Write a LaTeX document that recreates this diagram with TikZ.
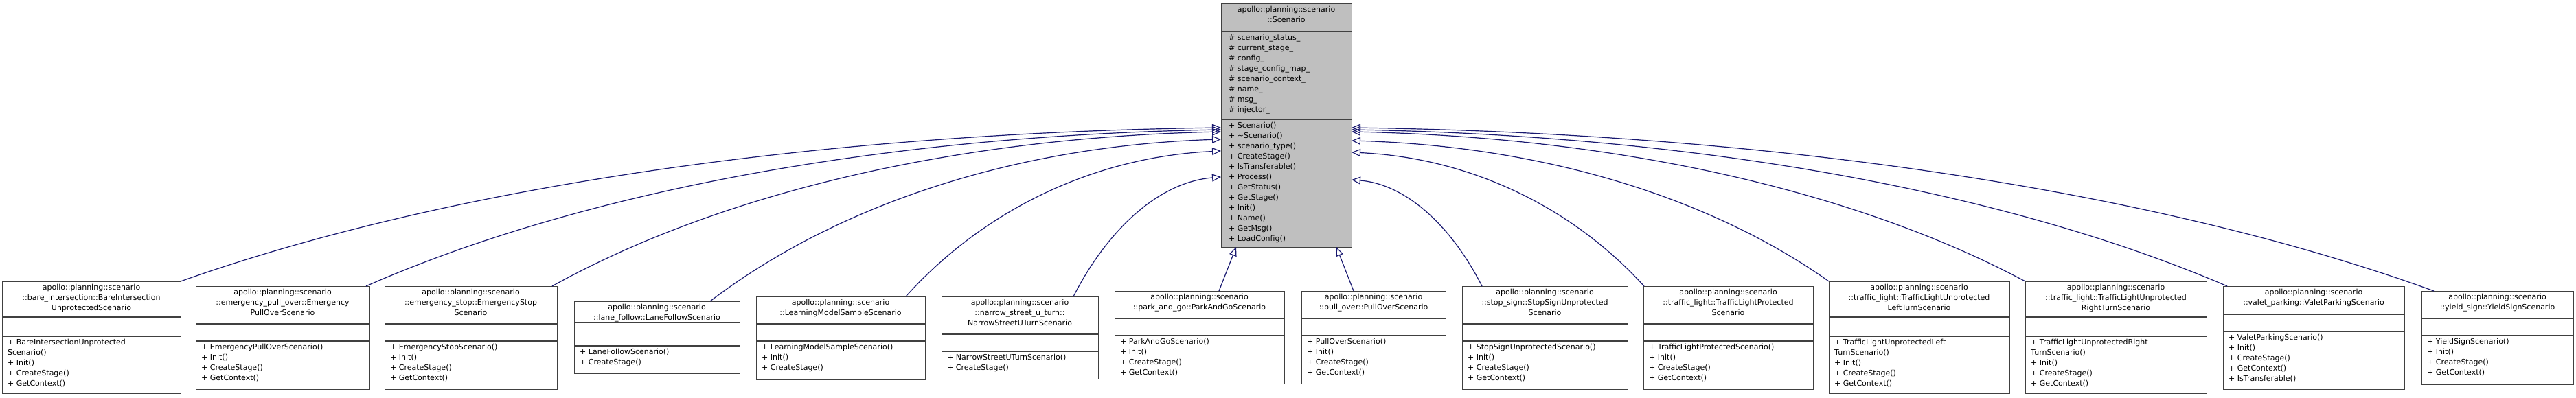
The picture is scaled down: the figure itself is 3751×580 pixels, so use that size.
\documentclass[tikz,border=0pt]{standalone}
\usepackage{fontspec}
\setmainfont{DejaVu Sans}
\usetikzlibrary{arrows.meta}
\definecolor{edgec}{HTML}{191970}
\definecolor{boxl}{HTML}{404040}
\tikzset{
  box/.style={draw=boxl, line width=1.4pt, inner sep=0pt, fill=white},
  sep/.style={draw=boxl, line width=1.4pt},
  ttl/.style={inner sep=0pt, align=center, font=\fontsize{11}{15}\selectfont},
  mth/.style={inner sep=0pt, align=left, font=\fontsize{11}{15}\selectfont},
  inh/.style={draw=edgec, line width=1.2pt, -{Triangle[open, length=13pt, width=11pt]}},
}
\newcommand\cls[9]{%
  \pgfmathsetmacro\cw{#3-#2}\pgfmathsetmacro\ch{#7-#4}%
  \node[box, minimum width=\cw pt, minimum height=\ch pt, anchor=north west] (#1) at (#2,580-#4) {};
  \draw[sep] (#2,580-#5) -- (#3,580-#5);
  \draw[sep] (#2,580-#6) -- (#3,580-#6);
  \node[ttl, anchor=north] (#1t) at ({(#2+#3)/2},580-#4-4) {#8};
  \node[mth, anchor=north west] (#1m) at (#2+8,580-#6-4) {#9};
}
% #1 child point name, #2,#3 its px coords (y down), #4 end name, #5,#6 end px coords
\newcommand\inhc[6]{%
  \coordinate (#1) at (#2,580-#3);
  \coordinate (#4) at (#5,580-#6);
  \pgfmathsetmacro\ax{#2+0.25*(#5-#2)}\pgfmathsetmacro\ay{580-#3+0.6*(#3-#6)}%
  \pgfmathsetmacro\bx{#2+0.6*(#5-#2)}\pgfmathsetmacro\by{580-#6-0.04*(#3-#6)}%
  \draw[inh] (#1) .. controls (\ax,\ay) and (\bx,\by) .. (#4);
}
\begin{document}
\begin{tikzpicture}[x=1pt,y=1pt]
\useasboundingbox (0,0) rectangle (3751,580);
% base class
\node[box, fill=gray!50, minimum width=190pt, minimum height=355pt, anchor=north west] (base) at (1778,575) {};
\draw[sep] (1778,580-46) -- (1968,580-46);
\draw[sep] (1778,580-174) -- (1968,580-174);
\node[ttl, anchor=north] (baset) at (1873,571) {apollo::planning::scenario\\::Scenario};
\node[mth, anchor=north west] (basea) at (1789,580-50) {\# scenario\_status\_\\\# current\_stage\_\\\# config\_\\\# stage\_config\_map\_\\\# scenario\_context\_\\\# name\_\\\# msg\_\\\# injector\_};
\node[mth, anchor=north west] (basem) at (1789,580-178) {+ Scenario()\\+ \textasciitilde Scenario()\\+ scenario\_type()\\+ CreateStage()\\+ IsTransferable()\\+ Process()\\+ GetStatus()\\+ GetStage()\\+ Init()\\+ Name()\\+ GetMsg()\\+ LoadConfig()};

\cls{bare}{3}{263}{410}{462}{490}{573}{apollo::planning::scenario\\::bare\_intersection::BareIntersection\\UnprotectedScenario}{+ BareIntersectionUnprotected\\Scenario()\\+ Init()\\+ CreateStage()\\+ GetContext()}
\cls{epo}{285}{538}{417}{472}{497}{567}{apollo::planning::scenario\\::emergency\_pull\_over::Emergency\\PullOverScenario}{+ EmergencyPullOverScenario()\\+ Init()\\+ CreateStage()\\+ GetContext()}
\cls{estop}{560}{811}{417}{472}{497}{567}{apollo::planning::scenario\\::emergency\_stop::EmergencyStop\\Scenario}{+ EmergencyStopScenario()\\+ Init()\\+ CreateStage()\\+ GetContext()}
\cls{lane}{836}{1077}{439}{470}{504}{544}{apollo::planning::scenario\\::lane\_follow::LaneFollowScenario}{+ LaneFollowScenario()\\+ CreateStage()}
\cls{lm}{1101}{1347}{432}{472}{497}{553}{apollo::planning::scenario\\::LearningModelSampleScenario}{+ LearningModelSampleScenario()\\+ Init()\\+ CreateStage()}
\cls{narrow}{1371}{1599}{432}{487}{512}{552}{apollo::planning::scenario\\::narrow\_street\_u\_turn::\\NarrowStreetUTurnScenario}{+ NarrowStreetUTurnScenario()\\+ CreateStage()}
\cls{park}{1623}{1870}{424}{464}{489}{559}{apollo::planning::scenario\\::park\_and\_go::ParkAndGoScenario}{+ ParkAndGoScenario()\\+ Init()\\+ CreateStage()\\+ GetContext()}
\cls{pull}{1895}{2105}{424}{464}{489}{559}{apollo::planning::scenario\\::pull\_over::PullOverScenario}{+ PullOverScenario()\\+ Init()\\+ CreateStage()\\+ GetContext()}
\cls{stop}{2129}{2370}{417}{472}{497}{567}{apollo::planning::scenario\\::stop\_sign::StopSignUnprotected\\Scenario}{+ StopSignUnprotectedScenario()\\+ Init()\\+ CreateStage()\\+ GetContext()}
\cls{tlp}{2393}{2640}{417}{472}{497}{567}{apollo::planning::scenario\\::traffic\_light::TrafficLightProtected\\Scenario}{+ TrafficLightProtectedScenario()\\+ Init()\\+ CreateStage()\\+ GetContext()}
\cls{tlul}{2663}{2926}{410}{462}{490}{573}{apollo::planning::scenario\\::traffic\_light::TrafficLightUnprotected\\LeftTurnScenario}{+ TrafficLightUnprotectedLeft\\TurnScenario()\\+ Init()\\+ CreateStage()\\+ GetContext()}
\cls{tlur}{2949}{3213}{410}{462}{490}{573}{apollo::planning::scenario\\::traffic\_light::TrafficLightUnprotected\\RightTurnScenario}{+ TrafficLightUnprotectedRight\\TurnScenario()\\+ Init()\\+ CreateStage()\\+ GetContext()}
\cls{valet}{3237}{3501}{417}{458}{483}{567}{apollo::planning::scenario\\::valet\_parking::ValetParkingScenario}{+ ValetParkingScenario()\\+ Init()\\+ CreateStage()\\+ GetContext()\\+ IsTransferable()}
\cls{yield}{3526}{3747}{424}{464}{489}{560}{apollo::planning::scenario\\::yield\_sign::YieldSignScenario}{+ YieldSignScenario()\\+ Init()\\+ CreateStage()\\+ GetContext()}

\inhc{pb}{263}{410}{eb}{1778}{186}
\inhc{pe}{533}{417}{ee}{1778}{189}
\inhc{ps}{804}{417}{es}{1778}{192}
\inhc{pl}{1034}{439}{el}{1778}{203}
\inhc{pm}{1319}{432}{em}{1778}{220}
\inhc{pn}{1563}{432}{en}{1778}{258}
\coordinate (pp) at (1775,580-424); \coordinate (ep) at (1800,580-360);
\draw[inh] (pp) -- (ep);
\coordinate (pq) at (1971,580-424); \coordinate (eq) at (1946,580-360);
\draw[inh] (pq) -- (eq);
\inhc{pt}{2158}{417}{et}{1968}{262}
\inhc{pu}{2394}{417}{eu}{1968}{222}
\inhc{pv}{2663}{410}{ev}{1968}{205}
\inhc{pw}{2949}{410}{ew}{1968}{192}
\inhc{px}{3243}{417}{ex}{1968}{189}
\inhc{py}{3544}{424}{ey}{1968}{186}
\end{tikzpicture}
\end{document}
